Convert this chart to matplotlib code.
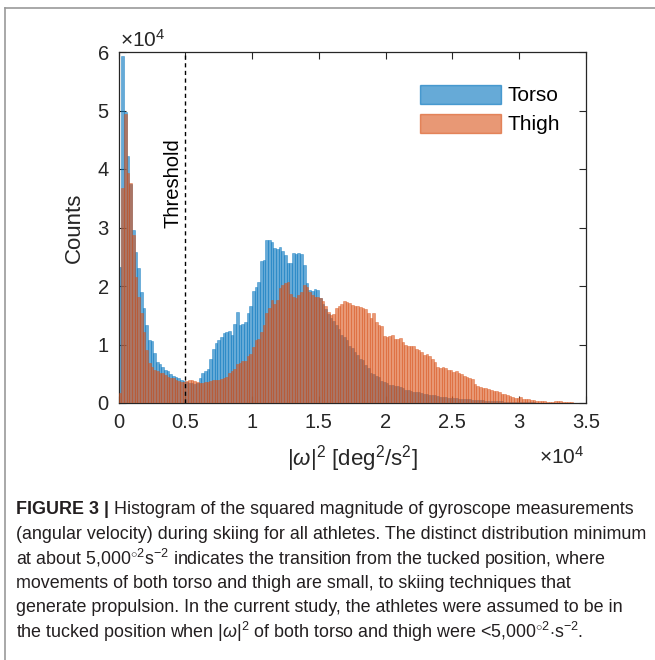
import matplotlib
matplotlib.use('Agg')
import matplotlib.pyplot as plt
from matplotlib.patches import Patch
from matplotlib.lines import Line2D
import numpy as np

# ---------------- data (counts in thousands per 200-unit bin) ----------------
bin_width = 200
torso = [23.3, 59.4, 49.8, 42.3, 37.4, 29.6, 25.8, 23.0, 19.0, 16.2,
         13.3, 10.8, 10.6, 8.5, 7.0, 6.7, 6.2, 5.6, 5.4, 5.0,
         4.6, 4.4, 4.2, 4.0, 3.8,
         3.6, 3.5, 3.4, 3.3, 3.5,
         4.2, 5.1, 5.4, 5.8, 7.5, 9.2, 10.2, 10.8, 11.2, 12.0,
         12.2, 12.3, 11.7, 13.5, 15.6, 13.3, 13.5, 13.9, 15.3, 16.6,
         19.2, 19.9, 20.7, 24.2, 24.4, 27.8, 27.9, 27.5, 26.5, 26.3, 26.6,
         25.9, 25.3, 23.9, 23.9, 25.6, 25.4, 25.6, 25.4, 23.6, 20.5,
         19.4, 19.2, 19.5, 19.3, 17.9, 17.0, 16.0, 15.2, 14.6, 14.0,
         13.4, 12.6, 11.6, 11.3, 10.8, 9.8, 9.4, 8.8, 8.2, 7.6,
         7.4, 6.5, 6.0, 5.1, 5.0, 4.6, 4.4, 3.8, 3.6, 3.4,
         3.1, 3.0,
         2.9, 2.9, 2.7, 2.6, 2.3, 2.2, 2.0, 1.9, 1.8, 1.8,
         1.7, 1.6, 1.5, 1.4, 1.4, 1.3, 1.2, 1.1, 1.0, 1.0,
         0.9, 0.9, 0.8, 0.8, 0.7, 0.7, 0.65, 0.6, 0.6, 0.55,
         0.5, 0.5, 0.45, 0.45, 0.4, 0.4, 0.35, 0.35, 0.3, 0.3,
         0.28, 0.25, 0.25, 0.22, 0.2, 0.2, 0.18, 0.15, 0.15, 0.12,
         0.12, 0.1, 0.1, 0.08, 0.08, 0.07, 0.06, 0.06, 0.05, 0.05,
         0.04, 0.04, 0.03, 0.03, 0.03, 0.02, 0.02, 0.02, 0.01, 0.01, 0.01]
thigh = [1.7, 36.7, 49.4, 39.3, 37.6, 28.7, 21.6, 18.2, 15.3, 12.2,
         9.0, 6.8, 6.1, 5.6, 5.4, 5.2, 5.1, 4.8, 4.4, 4.2,
         4.2, 3.9, 3.8, 3.6, 3.6,
         3.8, 3.9, 3.9, 3.8, 3.6, 3.5, 3.5, 3.6, 3.6, 3.7,
         3.9, 3.9, 4.0, 4.1, 4.3,
         4.4, 5.1, 5.4, 5.8, 6.6, 6.9, 7.1, 7.1, 8.1, 8.4,
         9.5, 10.7, 10.9, 12.2, 13.3, 15.3, 16.3, 17.6, 16.9, 17.6, 19.6,
         20.2, 20.5, 20.6, 18.6, 18.2, 17.9, 18.5, 18.9, 20.2, 19.8,
         19.0, 18.5, 18.2, 18.2, 17.9, 17.5, 16.5, 15.5, 15.0, 15.2,
         16.2, 16.6, 17.0, 17.4, 17.3, 17.1, 16.8, 16.6, 16.5, 16.4,
         16.2, 16.0, 15.3, 14.5, 15.3, 13.9, 13.3, 13.1, 11.4, 11.3,
         11.5, 11.6,
         10.9, 10.9, 11.1, 10.5, 10.0, 9.8, 9.8, 9.8, 9.3, 9.0,
         8.8, 8.2, 8.4, 8.0, 7.6, 7.0, 6.2, 5.9, 6.1, 6.0,
         5.7, 5.6, 5.3, 5.4, 5.2,
         4.9, 4.7, 4.4, 4.2, 4.1, 3.2, 2.9, 2.8, 2.5, 2.5,
         2.4, 2.2, 2.1, 2.0, 1.8, 1.6, 1.5, 1.3, 1.2, 1.1,
         0.9, 0.9, 1.1, 0.7, 0.6, 0.6, 0.5, 0.5, 0.4, 0.4,
         0.3, 0.3, 0.25, 0.2, 0.2, 0.3, 0.3, 0.3, 0.25, 0.2,
         0.1, 0.1, 0.05, 0.05, 0.03, 0.02]
series_names = ['Torso', 'Thigh']
x_ticks = [0, 5000, 10000, 15000, 20000, 25000, 30000, 35000]
x_tick_labels = ['0', '0.5', '1', '1.5', '2', '2.5', '3', '3.5']
y_ticks = [0, 10000, 20000, 30000, 40000, 50000, 60000]
y_tick_labels = ['0', '1', '2', '3', '4', '5', '6']
threshold = 5000

caption_lines = [
    " Histogram of the squared magnitude of gyroscope measurements",
    "(angular velocity) during skiing for all athletes. The distinct distribution minimum",
    r"at about 5,000$^{\circ 2}$s$^{-2}$ indicates the transition from the tucked position, where",
    "movements of both torso and thigh are small, to skiing techniques that",
    "generate propulsion. In the current study, the athletes were assumed to be in",
    r"the tucked position when |$\omega$|$^2$ of both torso and thigh were <5,000$^{\circ 2}$$\cdot$s$^{-2}$.",
]

# ---------------- style ----------------
plt.rcParams['font.family'] = ['Liberation Sans', 'DejaVu Sans']
plt.rcParams['mathtext.fontset'] = 'custom'
plt.rcParams['mathtext.rm'] = 'Liberation Sans'
plt.rcParams['mathtext.it'] = 'Liberation Sans:italic'
plt.rcParams['mathtext.bf'] = 'Liberation Sans:bold'

W, H = 655, 660
fig = plt.figure(figsize=(W / 100, H / 100), dpi=100)
fig.patch.set_facecolor('white')

def fx(px):
    return px / W

def fy(py):
    return 1 - py / H

ax_l, ax_r, ax_t, ax_b = 118.5, 586, 52, 403
ax = fig.add_axes([fx(ax_l), fy(ax_b), fx(ax_r) - fx(ax_l), fy(ax_t) - fy(ax_b)])

blue = (0.0, 0.447, 0.741)
orange = (0.85, 0.325, 0.098)
edges = np.arange(len(torso) + 1) * bin_width
ax.bar(edges[:len(torso)], np.array(torso) * 1000, width=bin_width, align='edge',
       color=blue, alpha=0.6, edgecolor=blue, linewidth=0.45, zorder=2)
edges2 = np.arange(len(thigh) + 1) * bin_width
ax.bar(edges2[:len(thigh)], np.array(thigh) * 1000, width=bin_width, align='edge',
       color=orange, alpha=0.6, edgecolor=orange, linewidth=0.45, zorder=3)

ax.axvline(threshold, color='black', linestyle=(0, (3, 2.5)), linewidth=1.0, zorder=4)
ax.text(threshold - 230, 37600, 'Threshold', rotation=90, ha='right', va='center',
        fontsize=14.5, color='black', zorder=5)

ax.set_xlim(0, 35000)
ax.set_ylim(0, 60000)
ax.set_xticks(x_ticks)
ax.set_xticklabels(x_tick_labels)
ax.set_yticks(y_ticks)
ax.set_yticklabels(y_tick_labels)
ax.tick_params(direction='in', length=5, width=0.8, labelsize=14.5, colors='#262626',
               top=True, right=True, pad=7)
for s in ax.spines.values():
    s.set_linewidth(0.9)
    s.set_color('#262626')

ax.set_ylabel('Counts', fontsize=16, color='#262626', labelpad=9)
ax.set_xlabel(r'$|\omega|^2$ [deg$^2$/s$^2$]', fontsize=16, color='#262626', labelpad=8)

fig.text(fx(120), fy(40), r'$\times10^4$', fontsize=15, color='#262626', ha='left', va='center')
fig.text(fx(584), fy(457), r'$\times10^4$', fontsize=15, color='#262626', ha='right', va='center')

handles = [Patch(facecolor=blue, edgecolor=blue, alpha=0.6, linewidth=1.0),
           Patch(facecolor=orange, edgecolor=orange, alpha=0.6, linewidth=1.0)]
leg = ax.legend(handles, series_names, loc='upper left', bbox_to_anchor=(fx(405), fy(70)),
                bbox_transform=fig.transFigure, frameon=False, fontsize=15,
                handlelength=3.9, handleheight=1.05, handletextpad=0.3, labelspacing=0.4,
                borderpad=0.2)

# ---------------- caption ----------------
cap_color = '#231f20'
cap_size = 12.9
line_y = [510, 534.4, 558.8, 583.2, 607.6, 632]
x0 = fx(16)
t0 = fig.text(x0, fy(line_y[0]), 'FIGURE 3 |', fontsize=cap_size, fontweight='bold',
              color=cap_color, ha='left', va='center')
fig.canvas.draw()
bb = t0.get_window_extent(renderer=fig.canvas.get_renderer())
fig.text(bb.x1 / W, fy(line_y[0]), caption_lines[0], fontsize=cap_size, color=cap_color,
         ha='left', va='center')
for ly, line in zip(line_y[1:], caption_lines[1:]):
    fig.text(x0, fy(ly), line, fontsize=cap_size, color=cap_color, ha='left', va='center')

# frame of the figure panel
fig.add_artist(Line2D([fx(5), 1.0], [fy(8), fy(8)], transform=fig.transFigure,
                      color='#9a9a9a', linewidth=1.2))
fig.add_artist(Line2D([fx(5), fx(5)], [fy(8), 0.0], transform=fig.transFigure,
                      color='#9a9a9a', linewidth=1.2))

fig.savefig('out.png', dpi=100, facecolor='white')
